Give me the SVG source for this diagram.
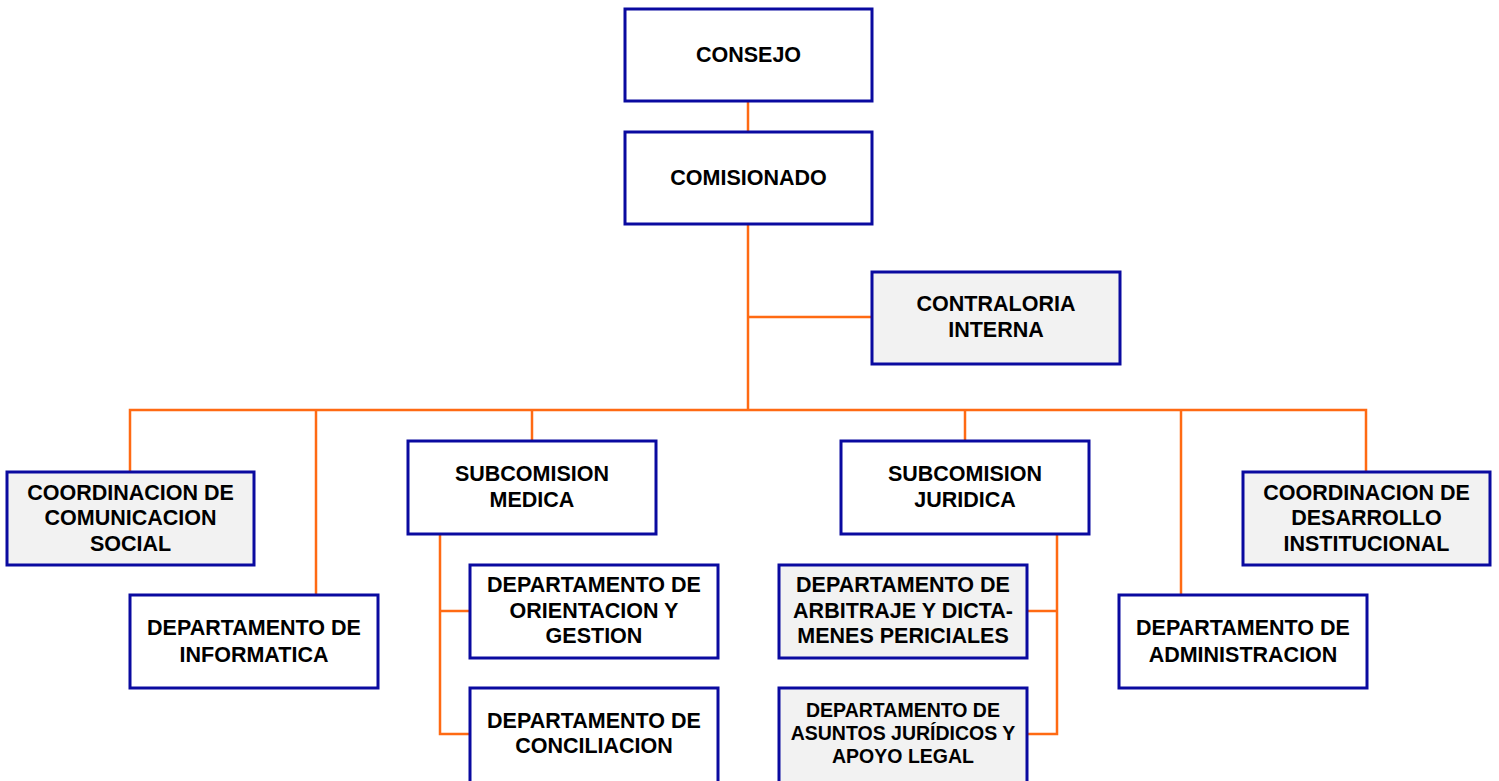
<svg xmlns="http://www.w3.org/2000/svg" width="1499" height="781" viewBox="0 0 1499 781">
<style>
.b{fill:#ffffff;stroke:#0a0aa0;stroke-width:3}
.g{fill:#f2f2f2;stroke:#0a0aa0;stroke-width:3}
.t{font-family:"Liberation Sans",Arial,sans-serif;font-weight:bold;font-size:21.5px;fill:#000;text-anchor:middle}
.s{font-size:19.5px}
.c{fill:none;stroke:#ff6a13;stroke-width:2.5}
</style>
<rect width="1499" height="781" fill="#ffffff"/>
<g id="connectors">
<path class="c" d="M748,101 V132"/>
<path class="c" d="M748,224 V410"/>
<path class="c" d="M748,317 H872"/>
<path class="c" d="M130,472 V410 H1366 V472"/>
<path class="c" d="M316,410 V595"/>
<path class="c" d="M532,410 V441"/>
<path class="c" d="M965,410 V441"/>
<path class="c" d="M1181,410 V595"/>
<path class="c" d="M440,534 V734 H470"/>
<path class="c" d="M440,611 H470"/>
<path class="c" d="M1057,534 V734 H1027"/>
<path class="c" d="M1057,611 H1027"/>
</g>
<g id="consejo"><rect class="b" x="625" y="9" width="247" height="92"/><text class="t" x="748.5" y="62">CONSEJO</text></g>
<g id="comisionado"><rect class="b" x="625" y="132" width="247" height="92"/><text class="t" x="748.5" y="185">COMISIONADO</text></g>
<g id="contraloria"><rect class="g" x="872" y="272" width="248" height="92"/><text class="t" x="996" y="311">CONTRALORIA</text><text class="t" x="996" y="337">INTERNA</text></g>
<g id="comunicacion"><rect class="g" x="7" y="472" width="247" height="93"/><text class="t" x="130.5" y="500">COORDINACION DE</text><text class="t" x="130.5" y="525">COMUNICACION</text><text class="t" x="130.5" y="551">SOCIAL</text></g>
<g id="informatica"><rect class="b" x="130" y="595" width="248" height="93"/><text class="t" x="254" y="635">DEPARTAMENTO DE</text><text class="t" x="254" y="662">INFORMATICA</text></g>
<g id="medica"><rect class="b" x="408" y="441" width="248" height="93"/><text class="t" x="532" y="481">SUBCOMISION</text><text class="t" x="532" y="507">MEDICA</text></g>
<g id="orientacion"><rect class="b" x="470" y="565" width="248" height="93"/><text class="t" x="594" y="592">DEPARTAMENTO DE</text><text class="t" x="594" y="618">ORIENTACION Y</text><text class="t" x="594" y="643">GESTION</text></g>
<g id="conciliacion"><rect class="b" x="470" y="688" width="248" height="95"/><text class="t" x="594" y="728">DEPARTAMENTO DE</text><text class="t" x="594" y="753">CONCILIACION</text></g>
<g id="juridica"><rect class="b" x="841" y="441" width="248" height="93"/><text class="t" x="965" y="481">SUBCOMISION</text><text class="t" x="965" y="507">JURIDICA</text></g>
<g id="arbitraje"><rect class="g" x="779" y="565" width="248" height="93"/><text class="t" x="903" y="592">DEPARTAMENTO DE</text><text class="t" x="903" y="618">ARBITRAJE Y DICTA-</text><text class="t" x="903" y="643">MENES PERICIALES</text></g>
<g id="asuntos"><rect class="g" x="779" y="688" width="248" height="95"/><text class="t s" x="903" y="717">DEPARTAMENTO DE</text><text class="t s" x="903" y="740">ASUNTOS JURÍDICOS Y</text><text class="t s" x="903" y="763">APOYO LEGAL</text></g>
<g id="administracion"><rect class="b" x="1119" y="595" width="248" height="93"/><text class="t" x="1243" y="635">DEPARTAMENTO DE</text><text class="t" x="1243" y="662">ADMINISTRACION</text></g>
<g id="desarrollo"><rect class="g" x="1243" y="472" width="247" height="93"/><text class="t" x="1366.5" y="500">COORDINACION DE</text><text class="t" x="1366.5" y="525">DESARROLLO</text><text class="t" x="1366.5" y="551">INSTITUCIONAL</text></g>
</svg>
